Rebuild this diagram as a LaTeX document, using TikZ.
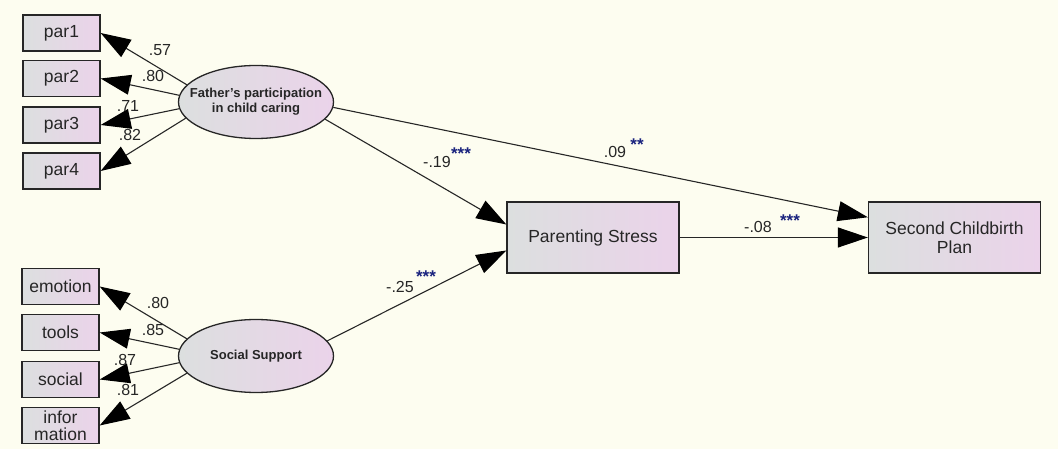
\documentclass[tikz,border=0pt]{standalone}
\usepackage{fontspec}
\setmainfont{Liberation Sans}
\usetikzlibrary{arrows.meta,shapes.geometric,calc}
\definecolor{bg}{HTML}{FDFDF0}
\definecolor{ln}{HTML}{262626}
\definecolor{gl}{HTML}{DCDFDF}
\definecolor{gr}{HTML}{EBD3EA}
\definecolor{starc}{HTML}{1A237E}
\begin{document}
\begin{tikzpicture}[x=1pt,y=-1pt,
 obs/.style={draw=ln, line width=1.3pt, left color=gl, right color=gr, minimum width=77pt, minimum height=36pt, inner sep=0pt, align=center, font=\fontsize{17.5}{17}\selectfont, text=ln},
 lat/.style={ellipse, draw=ln, line width=1.3pt, left color=gl, right color=gr, minimum width=155pt, minimum height=73pt, inner sep=0pt},
 lattext/.style={align=center, font=\bfseries\fontsize{13}{15}\selectfont, text=ln, inner sep=0pt},
 big/.style={obs, minimum width=172pt, minimum height=71pt, font=\fontsize{17.5}{19}\selectfont},
 pth/.style={draw=ln, line width=1.1pt, -{Triangle[length=30pt,width=20pt,color=black]}},
 coef/.style={font=\fontsize{16}{16}\selectfont, inner sep=0pt, text=ln},
 st/.style={font=\bfseries\fontsize{17}{17}\selectfont, text=starc, inner sep=0pt}]
\fill[bg] (0,0) rectangle (1058,449);
\useasboundingbox (0,0) rectangle (1058,449);
% observed indicators
\node[obs] (par1) at (61.5,33) {par1};
\node[obs] (par2) at (61.5,78.5) {par2};
\node[obs] (par3) at (61.5,125) {par3};
\node[obs] (par4) at (61.5,171) {par4};
\node[obs] (emo) at (60.5,286.5) {emotion};
\node[obs] (too) at (60.5,332.5) {tools};
\node[obs] (soc) at (60.5,379.5) {social};
\node[obs, font=\fontsize{17.5}{17.5}\selectfont] (inf) at (60.5,425.5) {infor\\mation};
% latent
\node[lat] (fa) at (256,102) {};
\node[lattext] (fat) at (fa.center) {Father's participation\\in child caring};
\node[lat] (ss) at (256,356) {};
\node[lattext] (sst) at (ss.center) {Social Support};
% outcomes
\node[big] (ps) at (593,237.5) {Parenting Stress};
\node[big] (sc) at (954.5,237.5) {Second Childbirth\\Plan};
% loadings
\draw[pth] (fa.166) -- (par1.east);
\draw[pth] (fa.175) -- (par2.east);
\draw[pth] (fa.185) -- (par3.east);
\draw[pth] (fa.193) -- (par4.east);
\draw[pth] (ss.166) -- (emo.east);
\draw[pth] (ss.175) -- (too.east);
\draw[pth] (ss.185) -- (soc.east);
\draw[pth] (ss.194) -- (inf.east);
% structural paths
\draw[pth] (fa.346) -- ($(ps.north west)!0.32!(ps.south west)$);
\draw[pth] (ss.12) -- ($(ps.north west)!0.68!(ps.south west)$);
\draw[pth] (fa.356) -- ($(sc.north west)!0.22!(sc.south west)$);
\draw[pth] (ps.east) -- (sc.west);
% coefficients
\node[coef] (c1) at (160,50) {.57};
\node[coef] (c2) at (153,76) {.80};
\node[coef] (c3) at (128,106) {.71};
\node[coef] (c4) at (130,135) {.82};
\node[coef] (c5) at (158,303) {.80};
\node[coef] (c6) at (153,330) {.85};
\node[coef] (c7) at (125,360) {.87};
\node[coef] (c8) at (128,390) {.81};
\node[coef] (c9) at (437,162) {-.19};
\node[st] (s9) at (461,154) {***};
\node[coef] (c10) at (615,152) {.09};
\node[st] (s10) at (637,145) {**};
\node[coef] (c11) at (400,287) {-.25};
\node[st] (s11) at (426,277) {***};
\node[coef] (c12) at (758,227) {-.08};
\node[st] (s12) at (790,221) {***};
\end{tikzpicture}
\end{document}
